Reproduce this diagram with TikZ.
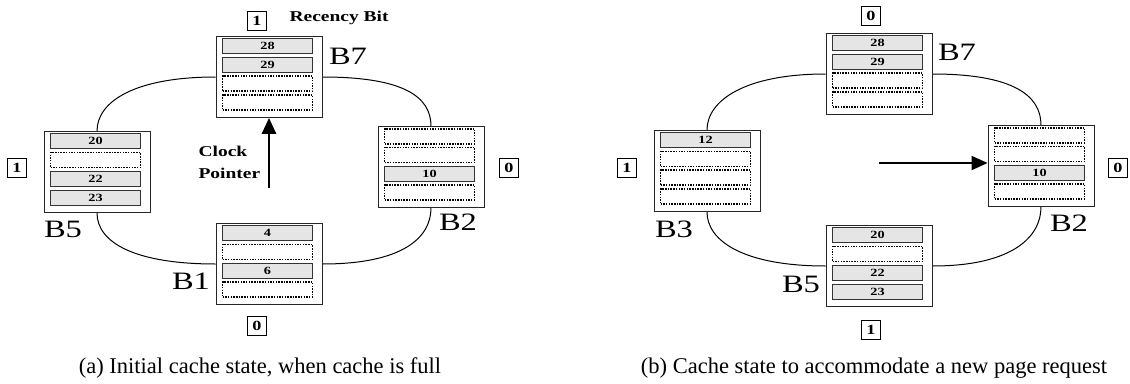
\documentclass[tikz,border=0pt]{standalone}
\usepackage{fontspec}
\setmainfont{Liberation Serif}
\newfontfamily\figfont[FakeStretch=1.3]{Liberation Serif}
\usetikzlibrary{calc}
\usetikzlibrary{arrows.meta}
\usetikzlibrary{backgrounds}

% one cache bucket: name, centre, list of slot-style/page
\newcommand{\bucket}[3]{%
  \node[bucketbox] (#1) at #2 {};
  \foreach \kind/\pg [count=\i] in {#3}
    \node[\kind] (#1-\i) at ($(#1.north)+(-1.5,{10+(\i-1)*18.8})$) {\pg};
}

\begin{document}
\begin{tikzpicture} [
    x=1pt, y=-1pt,
    bucketbox/.style = { rectangle, draw=black!85, fill=white, line width=0.8pt,
                         minimum width=106pt, minimum height=81pt, inner sep=0pt },
    usedslot/.style  = { rectangle, draw=black!80, fill=gray!20, line width=0.7pt,
                         minimum width=90pt, minimum height=15pt, inner sep=0pt,
                         font=\figfont\fontsize{11}{11}\selectfont\bfseries },
    freeslot/.style  = { usedslot, fill=none, draw=black, line width=1.8pt,
                         dash pattern=on 1.5pt off 1.2pt },
    bitbox/.style    = { rectangle, draw, line width=0.9pt, minimum size=19pt,
                         inner sep=0pt, font=\figfont\fontsize{14}{14}\selectfont\bfseries },
    bname/.style     = { font=\figfont\fontsize{25}{25}\selectfont },
    etiq/.style      = { font=\figfont\fontsize{15}{22}\selectfont\bfseries, align=left },
    ring/.style      = { draw, line width=1pt },
    pointer/.style   = { draw, line width=2.8pt, -{Triangle[length=16pt,width=14pt]} },
    caption/.style   = { font=\fontsize{22.5}{22.5}\selectfont },
  ]
\useasboundingbox (0,0) rectangle (1130,383);

% (a) initial state
\bucket{b7}{(269,77)}{usedslot/28, usedslot/29, freeslot/{}, freeslot/{}}
\bucket{b5}{(97,172)}{usedslot/20, freeslot/{}, usedslot/22, usedslot/23}
\bucket{b2}{(431,167)}{freeslot/{}, freeslot/{}, usedslot/10, freeslot/{}}
\bucket{b1}{(269,264)}{usedslot/4, freeslot/{}, usedslot/6, freeslot/{}}

\node (nb7) [bname] at (348,56) {B7};
\node (nb5) [bname] at (63,229) {B5};
\node (nb2) [bname] at (458,222) {B2};
\node (nb1) [bname] at (191,281) {B1};

\node (bit7) [bitbox] at (257,21) {1};
\node (bit5) [bitbox] at (17,168) {1};
\node (bit2) [bitbox] at (509,168) {0};
\node (bit1) [bitbox] at (257,326) {0};
\node (rbit) [etiq, anchor=west] at (286,18) {Recency Bit};

\node (clk) [etiq, anchor=west] at (195,162) {Clock\\Pointer};
\coordinate (tail) at (269,188);
\path[pointer] (tail) -- (b7.south);

\begin{scope}[on background layer]
\path[ring] (b7.east) .. controls +(80,0) and +(0,-30) .. (b2.north);
\path[ring] (b2.south) .. controls +(0,30) and +(80,0) .. (b1.east);
\path[ring] (b1.west) .. controls +(-80,0) and +(0,30) .. (b5.south);
\path[ring] (b5.north) .. controls +(0,-30) and +(-80,0) .. (b7.west);
\end{scope}

\node (capa) [caption] at (260,368) {(a) Initial cache state, when cache is full};

% (b) after the new page request
\bucket{c7}{(879,74)}{usedslot/28, usedslot/29, freeslot/{}, freeslot/{}}
\bucket{c3}{(707,171)}{usedslot/12, freeslot/{}, freeslot/{}, freeslot/{}}
\bucket{c2}{(1041,166)}{freeslot/{}, freeslot/{}, usedslot/10, freeslot/{}}
\bucket{c5}{(879,266)}{usedslot/20, freeslot/{}, usedslot/22, usedslot/23}

\node (nc7) [bname] at (957,52) {B7};
\node (nc3) [bname] at (674,229) {B3};
\node (nc2) [bname] at (1069,223) {B2};
\node (nc5) [bname] at (801,284) {B5};

\node (cbit7) [bitbox] at (871,16) {0};
\node (cbit3) [bitbox] at (627,168) {1};
\node (cbit2) [bitbox] at (1118,168) {0};
\node (cbit5) [bitbox] at (871,330) {1};

\coordinate (tail2) at (879,163);
\path[pointer, line width=1.8pt] (tail2) -- (tail2 -| c2.west);

\begin{scope}[on background layer]
\path[ring] (c7.east) .. controls +(80,0) and +(0,-30) .. (c2.north);
\path[ring] (c2.south) .. controls +(0,30) and +(80,0) .. (c5.east);
\path[ring] (c5.west) .. controls +(-80,0) and +(0,30) .. (c3.south);
\path[ring] (c3.north) .. controls +(0,-30) and +(-80,0) .. (c7.west);
\end{scope}

\node (capb) [caption] at (874,368) {(b) Cache state to accommodate a new page request};

\end{tikzpicture}
\end{document}
